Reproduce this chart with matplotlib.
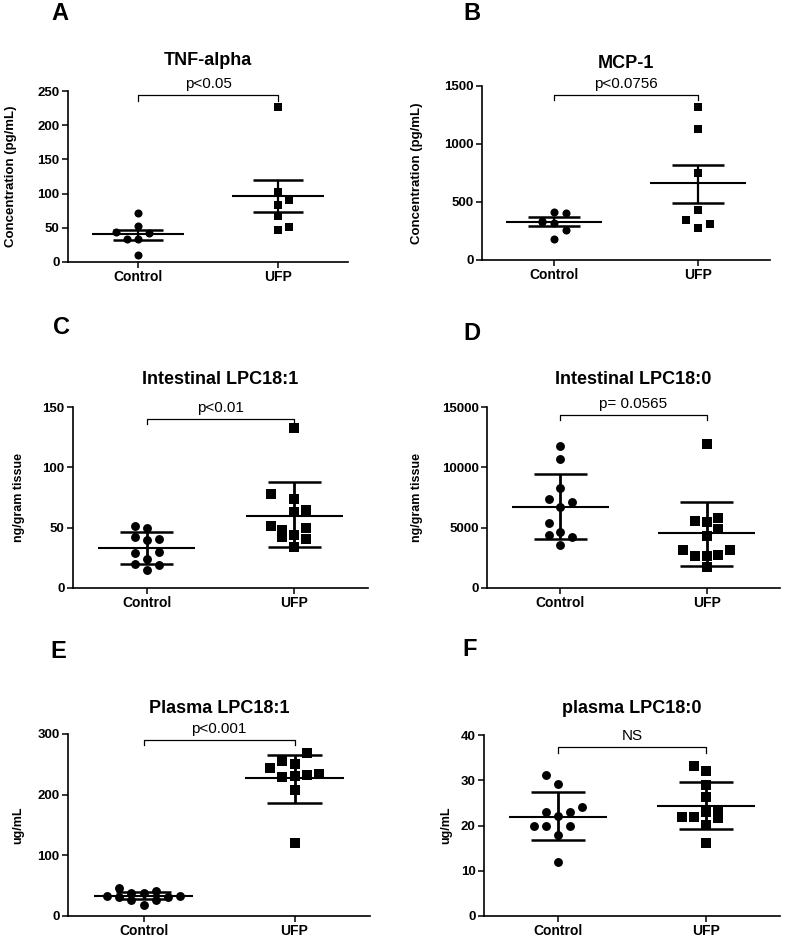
import numpy as np
import matplotlib
matplotlib.use('Agg')
import matplotlib.pyplot as plt

plt.rcParams['font.family'] = ['Liberation Sans', 'DejaVu Sans']

groups = ['Control', 'UFP']

# A - TNF-alpha (mean +/- SEM)
tnf_ctrl = [72, 52, 44, 42, 33, 33, 10]
tnf_ctrl_step = [0, 0, -2, 1, -1, 0, 0]
tnf_ufp = [227, 103, 91, 84, 67, 47, 51]
tnf_ufp_step = [0, 0, 1, 0, 0, 0, 1]
tnf_mean = [40.4, 96]
tnf_lo = [32.6, 73.6]
tnf_hi = [47.3, 119.4]

# B - MCP-1 (mean +/- SEM)
mcp_ctrl = [414, 405, 335, 328, 319, 259, 181]
mcp_ctrl_step = [0, 1, -1, -1, 0, 1, 0]
mcp_ufp = [1319, 1133, 746, 430, 344, 310, 272]
mcp_ufp_step = [0, 0, 0, 0, -1, 1, 0]
mcp_mean = [330, 660]
mcp_lo = [293, 488]
mcp_hi = [373, 823]

# C - intestinal LPC18:1 (mean +/- SD)
ilpc1_ctrl = [51.5, 50, 42, 40, 40.5, 29, 30, 24, 20, 19, 15]
ilpc1_ctrl_step = [-1, 0, -1, 0, 1, -1, 1, 0, -1, 1, 0]
ilpc1_ufp = [132.7, 78, 74, 65, 63, 51, 48, 50, 44, 42, 41, 34]
ilpc1_ufp_step = [0, -2, 0, 1, 0, -2, -1, 1, 0, -1, 1, 0]
ilpc1_mean = [33, 59.7]
ilpc1_lo = [20, 33.6]
ilpc1_hi = [46, 87.5]

# D - intestinal LPC18:0 (mean +/- SD)
ilpc0_ctrl = [11780, 10679, 8257, 7349, 7101, 6743, 5422, 4679, 4404, 4266, 3523]
ilpc0_ctrl_step = [0, 0, 0, -1, 1, 0, -1, 0, -1, 1, 0]
ilpc0_ufp = [11917, 5587, 5505, 5780, 4872, 4349, 3165, 3165, 2670, 2670, 2752, 1706]
ilpc0_ufp_step = [0, -1, 0, 1, 1, 0, -2, 2, -1, 0, 1, 0]
ilpc0_mean = [6743, 4541]
ilpc0_lo = [4046, 1789]
ilpc0_hi = [9440, 7156]

# E - plasma LPC18:1 (mean +/- SD)
plpc1_ctrl = [33.5, 45.6, 30.8, 38.5, 26.4, 38.5, 18, 41, 26.4, 30.8, 33.5]
plpc1_ctrl_step = [-3, -2, -2, -1, -1, 0, 0, 1, 1, 2, 3]
plpc1_ufp = [268.7, 255.5, 250.5, 244, 234, 232.4, 230.8, 229, 207.7, 120]
plpc1_ufp_step = [1, -1, 0, -2, 2, 1, 0, -1, 0, 0]
plpc1_mean = [33.5, 227]
plpc1_lo = [27.5, 187]
plpc1_hi = [40, 265]

# F - plasma LPC18:0 (mean +/- SD)
plpc0_ctrl = [31.2, 29.1, 24, 23, 23, 22, 20, 20, 20, 18, 12]
plpc0_ctrl_step = [-1, 0, 2, -1, 1, 0, -2, -1, 1, 0, 0]
plpc0_ufp = [33.1, 32, 29, 26.3, 21.9, 21.9, 23, 23.4, 21.7, 20.1, 16.1]
plpc0_ufp_step = [-1, 0, 0, 0, -2, -1, 0, 1, 1, 0, 0]
plpc0_mean = [21.95, 24.4]
plpc0_lo = [16.8, 19.2]
plpc0_hi = [27.3, 29.7]

titles = ['TNF-alpha', 'MCP-1', 'Intestinal LPC18:1', 'Intestinal LPC18:0',
          'Plasma LPC18:1', 'plasma LPC18:0']
pvals = ['p<0.05', 'p<0.0756', 'p<0.01', 'p= 0.0565', 'p<0.001', 'NS']
ylabels = ['Concentration (pg/mL)', 'Concentration (pg/mL)', 'ng/gram tissue',
           'ng/gram tissue', 'ug/mL', 'ug/mL']
yticks = [[0, 50, 100, 150, 200, 250], [0, 500, 1000, 1500], [0, 50, 100, 150],
          [0, 5000, 10000, 15000], [0, 100, 200, 300], [0, 10, 20, 30, 40]]
# bracket height and bottom of its end ticks
bracket_y = [243.7, 1425, 140, 14367, 290, 37.3]
bracket_end = [236, 1382, 135.7, 13954, 282, 36.1]
letters = ['A', 'B', 'C', 'D', 'E', 'F']

data = [
    (tnf_ctrl, tnf_ctrl_step, tnf_ufp, tnf_ufp_step, tnf_mean, tnf_lo, tnf_hi),
    (mcp_ctrl, mcp_ctrl_step, mcp_ufp, mcp_ufp_step, mcp_mean, mcp_lo, mcp_hi),
    (ilpc1_ctrl, ilpc1_ctrl_step, ilpc1_ufp, ilpc1_ufp_step, ilpc1_mean, ilpc1_lo, ilpc1_hi),
    (ilpc0_ctrl, ilpc0_ctrl_step, ilpc0_ufp, ilpc0_ufp_step, ilpc0_mean, ilpc0_lo, ilpc0_hi),
    (plpc1_ctrl, plpc1_ctrl_step, plpc1_ufp, plpc1_ufp_step, plpc1_mean, plpc1_lo, plpc1_hi),
    (plpc0_ctrl, plpc0_ctrl_step, plpc0_ufp, plpc0_ufp_step, plpc0_mean, plpc0_lo, plpc0_hi),
]

W, H = 787, 939
# axes boxes in pixels: left, top, right, bottom
boxes = [(68, 91, 348, 262), (482, 86, 770, 260),
         (73, 407, 368, 588), (487, 407, 780, 588),
         (68, 734, 370, 916), (484, 735, 780, 916)]
# right edge of the y label, in pixels
ylab_px = [17, 423, 25, 423, 24, 452]
title_pad = [19, 13, 16.5, 16.5, 15, 15.5]
letter_px = [(60, 14), (472, 13), (61, 327), (472, 334), (58, 652), (470, 650)]
ylab_size = [9.5, 9.5, 9, 9, 9, 9]

fig = plt.figure(figsize=(W / 100, H / 100), dpi=100)

for k in range(6):
    l, t, r, b = boxes[k]
    ax = fig.add_axes([l / W, 1 - b / H, (r - l) / W, (b - t) / H])
    ctrl, cstep, ufp, ustep, mean, lo, hi = data[k]
    small = k < 2
    step = 0.08
    for i, (vals, st, mk) in enumerate([(ctrl, cstep, 'o'), (ufp, ustep, 's')]):
        x = i + np.array(st) * step
        ms = (5.8 if mk == 'o' else 6.3) if small else (6.4 if mk == 'o' else 6.9)
        ax.plot(x, vals, ls='none', marker=mk, ms=ms, color='black', mew=0, zorder=3)
        ax.hlines(mean[i], i - 0.33, i + 0.33, color='black', lw=1.5, zorder=4)
        ax.hlines([lo[i], hi[i]], i - 0.18, i + 0.18, color='black', lw=1.8, zorder=4)
        ax.vlines(i, lo[i], hi[i], color='black', lw=1.6 if small else 2.0, zorder=4)

    ax.plot([0, 0, 1, 1], [bracket_end[k], bracket_y[k], bracket_y[k], bracket_end[k]],
            color='black', lw=0.9, clip_on=False)
    ax.annotate(pvals[k], xy=(0.5, bracket_y[k]), xytext=(0, 5), textcoords='offset points',
                ha='center', va='baseline', fontsize=11, annotation_clip=False)

    ax.set_xlim(-0.5, 1.5)
    ax.set_ylim(0, yticks[k][-1])
    ax.set_xticks([0, 1])
    ax.set_xticklabels(groups, fontsize=10, fontweight='bold')
    ax.set_yticks(yticks[k])
    ax.set_yticklabels([str(v) for v in yticks[k]], fontsize=9.5, fontweight='bold')
    ax.tick_params(length=4, width=1.1, pad=2)
    for s in ['top', 'right']:
        ax.spines[s].set_visible(False)
    for s in ['left', 'bottom']:
        ax.spines[s].set_linewidth(1.2)
    ax.set_ylabel(ylabels[k], fontsize=ylab_size[k], fontweight='bold')
    ax.yaxis.set_label_coords((ylab_px[k] - l) / (r - l), 0.5)
    ax.set_title(titles[k], fontsize=13, fontweight='bold', pad=title_pad[k])

    lx, ly = letter_px[k]
    fig.text(lx / W, 1 - ly / H, letters[k], fontsize=17, fontweight='bold',
             ha='center', va='center')

fig.savefig('out.png', dpi=100)
